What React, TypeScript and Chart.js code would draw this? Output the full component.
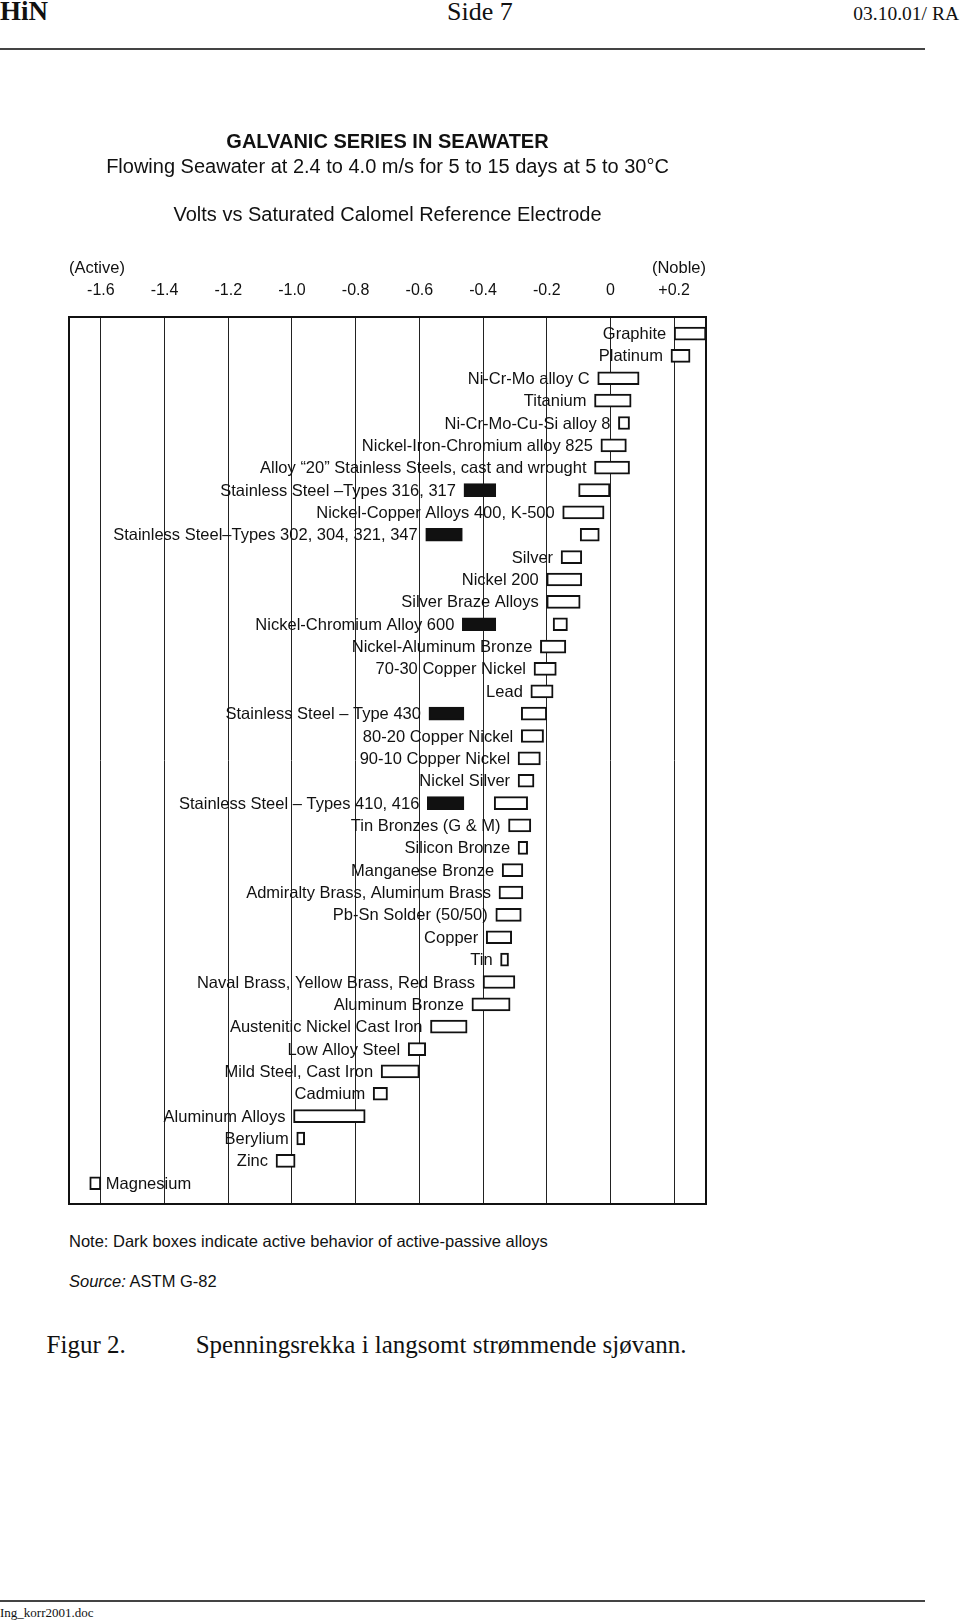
import React, { useEffect, useRef } from "react";
import { Chart, registerables } from "chart.js";

Chart.register(...registerables);

// ---------- data ----------
const MATERIALS: string[] = [
  "Graphite",
  "Platinum",
  "Ni-Cr-Mo alloy C",
  "Titanium",
  "Ni-Cr-Mo-Cu-Si alloy 8",
  "Nickel-Iron-Chromium alloy 825",
  "Alloy “20” Stainless Steels, cast and wrought",
  "Stainless Steel –Types 316, 317",
  "Nickel-Copper Alloys 400, K-500",
  "Stainless Steel–Types 302, 304, 321, 347",
  "Silver",
  "Nickel 200",
  "Silver Braze Alloys",
  "Nickel-Chromium Alloy 600",
  "Nickel-Aluminum Bronze",
  "70-30 Copper Nickel",
  "Lead",
  "Stainless Steel – Type 430",
  "80-20 Copper Nickel",
  "90-10 Copper Nickel",
  "Nickel Silver",
  "Stainless Steel – Types 410, 416",
  "Tin Bronzes (G & M)",
  "Silicon Bronze",
  "Manganese Bronze",
  "Admiralty Brass, Aluminum Brass",
  "Pb-Sn Solder (50/50)",
  "Copper",
  "Tin",
  "Naval Brass, Yellow Brass, Red Brass",
  "Aluminum Bronze",
  "Austenitic Nickel Cast Iron",
  "Low Alloy Steel",
  "Mild Steel, Cast Iron",
  "Cadmium",
  "Aluminum Alloys",
  "Berylium",
  "Zinc",
  "Magnesium",
];

// potential ranges (V vs SCE), light boxes
const PASSIVE_RANGES: [number, number][] = [
  [0.2, 0.3],
  [0.19, 0.25],
  [-0.04, 0.09],
  [-0.05, 0.065],
  [0.025, 0.06],
  [-0.03, 0.05],
  [-0.05, 0.06],
  [-0.1, 0.0],
  [-0.15, -0.02],
  [-0.095, -0.035],
  [-0.155, -0.09],
  [-0.2, -0.09],
  [-0.2, -0.095],
  [-0.18, -0.135],
  [-0.22, -0.14],
  [-0.24, -0.17],
  [-0.25, -0.18],
  [-0.28, -0.2],
  [-0.28, -0.21],
  [-0.29, -0.22],
  [-0.29, -0.24],
  [-0.365, -0.26],
  [-0.32, -0.25],
  [-0.29, -0.26],
  [-0.34, -0.275],
  [-0.35, -0.275],
  [-0.36, -0.28],
  [-0.39, -0.31],
  [-0.345, -0.32],
  [-0.4, -0.3],
  [-0.435, -0.315],
  [-0.565, -0.45],
  [-0.635, -0.58],
  [-0.72, -0.6],
  [-0.745, -0.7],
  [-0.995, -0.77],
  [-0.985, -0.96],
  [-1.05, -0.99],
  [-1.635, -1.6],
];

// dark boxes: active behaviour of active-passive alloys
const ACTIVE_RANGES: ([number, number] | null)[] = [
  null, null, null, null, null, null, null,
  [-0.46, -0.36],
  null,
  [-0.58, -0.465],
  null, null, null,
  [-0.465, -0.36],
  null, null, null,
  [-0.57, -0.46],
  null, null, null,
  [-0.575, -0.46],
  null, null, null, null, null, null, null, null, null, null, null, null, null, null, null, null, null,
];

const TICK_VALUES: number[] = [-1.6, -1.4, -1.2, -1.0, -0.8, -0.6, -0.4, -0.2, 0, 0.2];
const TICK_LABELS: string[] = ["-1.6", "-1.4", "-1.2", "-1.0", "-0.8", "-0.6", "-0.4", "-0.2", "0", "+0.2"];
const X_MIN = -1.7;
const X_MAX = 0.3;

const TITLE = "GALVANIC SERIES IN SEAWATER";
const SUBTITLE_LINES = [
  "Flowing Seawater at 2.4 to 4.0 m/s for 5 to 15 days at 5 to 30°C",
  "",
  "Volts vs Saturated Calomel Reference Electrode",
];
const LEFT_END = "(Active)";
const RIGHT_END = "(Noble)";

const SANS = '"Liberation Sans", Arial, Helvetica, sans-serif';
const SERIF = '"Liberation Serif", "Times New Roman", Times, serif';
const INK = "#111";

// ---------- plugin: row labels, frame, end labels ----------
const galvanicPlugin = {
  id: "galvanicDecor",
  afterDatasetsDraw(chart: any) {
    const { ctx, chartArea, scales } = chart;
    const xs = scales.x;
    const ys = scales.y;
    ctx.save();
    ctx.font = `16.5px ${SANS}`;
    ctx.fillStyle = INK;
    ctx.textBaseline = "middle";
    MATERIALS.forEach((name, i) => {
      const ranges = [PASSIVE_RANGES[i]];
      const a = ACTIVE_RANGES[i];
      if (a) ranges.push(a);
      const lo = Math.min(...ranges.map((r) => r[0]));
      const hi = Math.max(...ranges.map((r) => r[1]));
      const yp = ys.getPixelForValue(i) + 1;
      const w = ctx.measureText(name).width;
      const xr = xs.getPixelForValue(lo) - 8;
      if (xr - w < chartArea.left + 6) {
        ctx.textAlign = "left";
        ctx.fillText(name, xs.getPixelForValue(hi) + 5, yp);
      } else {
        ctx.textAlign = "right";
        ctx.fillText(name, xr, yp);
      }
    });
    // frame
    ctx.lineWidth = 2;
    ctx.strokeStyle = INK;
    ctx.strokeRect(
      chartArea.left,
      chartArea.top,
      chartArea.right - chartArea.left,
      chartArea.bottom - chartArea.top
    );
    // (Active) / (Noble)
    ctx.textAlign = "left";
    ctx.fillText(LEFT_END, chartArea.left, chartArea.top - 49);
    ctx.textAlign = "right";
    ctx.fillText(RIGHT_END, chartArea.right, chartArea.top - 49);
    ctx.restore();
  },
};

function GalvanicChart() {
  const ref = useRef<HTMLCanvasElement | null>(null);
  useEffect(() => {
    if (!ref.current) return;
    const passiveData = PASSIVE_RANGES.map((r, i) => ({ x: r, y: i }));
    const activeData = ACTIVE_RANGES.flatMap((r, i) => (r ? [{ x: r, y: i }] : []));
    const chart = new Chart(ref.current, {
      type: "bar",
      data: {
        datasets: [
          {
            label: "Passive",
            data: passiveData as any,
            backgroundColor: "#ffffff",
            borderColor: INK,
            borderWidth: 2,
            borderSkipped: false,
            barThickness: 13,
            grouped: false,
          } as any,
          {
            label: "Active",
            data: activeData as any,
            backgroundColor: INK,
            borderColor: INK,
            borderWidth: 2,
            borderSkipped: false,
            barThickness: 13,
            grouped: false,
          } as any,
        ],
      },
      options: {
        indexAxis: "y",
        animation: false,
        responsive: false,
        devicePixelRatio: 1,
        layout: { padding: { left: 69, right: 254, top: 0, bottom: 26 } },
        plugins: {
          legend: { display: false },
          tooltip: { enabled: false },
          title: {
            display: true,
            text: TITLE,
            color: INK,
            font: { family: SANS, size: 20, weight: "bold", lineHeight: 1.2 },
            padding: { top: 30, bottom: 0 },
          },
          subtitle: {
            display: true,
            text: SUBTITLE_LINES,
            color: INK,
            font: { family: SANS, size: 20, lineHeight: 1.2 },
            padding: { top: 1, bottom: 38 },
          },
        },
        scales: {
          x: {
            type: "linear",
            position: "top",
            min: X_MIN,
            max: X_MAX,
            offset: false,
            afterBuildTicks: (s: any) => {
              s.ticks = TICK_VALUES.map((v) => ({ value: v }));
            },
            ticks: {
              callback: (_v: any, i: number) => TICK_LABELS[i],
              color: INK,
              font: { family: SANS, size: 16, lineHeight: 1.2 },
              padding: 16.4,
              maxRotation: 0,
              autoSkip: false,
            },
            grid: { color: "#222", lineWidth: 1, drawTicks: false },
            border: { display: false },
          },
          y: {
            type: "linear",
            reverse: true,
            min: -0.74,
            max: 38.93,
            offset: false,
            grace: 0,
            display: false,
          },
        },
      } as any,
      plugins: [galvanicPlugin],
    });
    return () => chart.destroy();
  }, []);
  return (
    <div style={{ position: "absolute", left: 0, top: 100, width: 960, height: 1130 }}>
      <canvas ref={ref} width={960} height={1130} style={{ width: 960, height: 1130, display: "block" }} />
    </div>
  );
}

// ---------- page text helper ----------
function Txt(props: {
  x: number;
  baseline: number;
  size: number;
  serif?: boolean;
  bold?: boolean;
  align?: "left" | "right";
  children: React.ReactNode;
}) {
  const asc = props.serif ? 0.8375 : 0.8465;
  const style: React.CSSProperties = {
    position: "absolute",
    top: props.baseline - props.size * asc,
    fontFamily: props.serif ? SERIF : SANS,
    fontSize: props.size,
    lineHeight: `${props.size}px`,
    fontWeight: props.bold ? "bold" : "normal",
    whiteSpace: "nowrap",
    color: INK,
  };
  if (props.align === "right") style.right = 960 - props.x;
  else style.left = props.x;
  return <div style={style}>{props.children}</div>;
}

export default function App() {
  return (
    <div
      style={{
        position: "absolute",
        left: 0,
        top: 0,
        width: 960,
        height: 1624,
        overflow: "hidden",
        background: "#fff",
      }}
    >
      <Txt x={0} baseline={20.5} size={27} serif bold>HiN</Txt>
      <Txt x={447} baseline={20.5} size={26} serif>Side 7</Txt>
      <Txt x={959} baseline={20.5} size={19.5} serif align="right">03.10.01/ RA</Txt>
      <div style={{ position: "absolute", left: 0, top: 48, width: 925, height: 2, background: "#444" }} />

      <GalvanicChart />

      <Txt x={69} baseline={1247} size={16.5}>
        Note: Dark boxes indicate active behavior of active-passive alloys
      </Txt>
      <Txt x={69} baseline={1287} size={16.5}>
        <i>Source:</i> ASTM G-82
      </Txt>
      <Txt x={46.6} baseline={1353} size={25} serif>Figur 2.</Txt>
      <Txt x={195.7} baseline={1353} size={25} serif>
        Spenningsrekka i langsomt strømmende sjøvann.
      </Txt>

      <div style={{ position: "absolute", left: 0, top: 1600, width: 925, height: 2, background: "#444" }} />
      <Txt x={0} baseline={1617} size={13} serif>Ing_korr2001.doc</Txt>
    </div>
  );
}
